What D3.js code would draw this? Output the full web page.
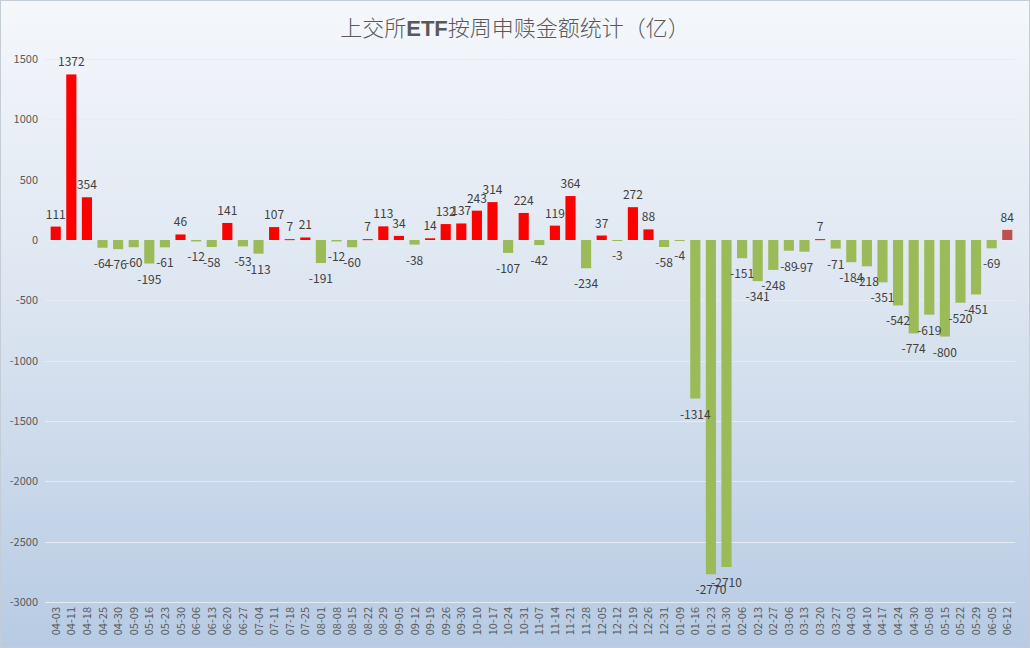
<!DOCTYPE html>
<html>
<head>
<meta charset="utf-8">
<script src="https://cdn.jsdelivr.net/npm/d3@7"></script>
<style>
  body { margin: 0; background: #fff; }
  svg text { font-family: "Noto Sans CJK SC", "Noto Sans", sans-serif; }
</style>
</head>
<body>
<svg id="vis" width="1030" height="648"></svg>
<script>
// weekly dates (x categories) - some dates repeat across years
const weeks = [
  "04-03", "04-11", "04-18", "04-25", "04-30", "05-09", "05-16", "05-23", "05-30", "06-06",
  "06-13", "06-20", "06-27", "07-04", "07-11", "07-18", "07-25", "08-01", "08-08", "08-15",
  "08-22", "08-29", "09-05", "09-12", "09-19", "09-26", "09-30", "10-10", "10-17", "10-24",
  "10-31", "11-07", "11-14", "11-21", "11-28", "12-05", "12-12", "12-19", "12-26", "12-31",
  "01-09", "01-16", "01-23", "01-30", "02-06", "02-13", "02-27", "03-06", "03-13", "03-20",
  "03-27", "04-03", "04-10", "04-17", "04-24", "04-30", "05-08", "05-15", "05-22", "05-29",
  "06-05", "06-12"
];

// net subscription / redemption (亿)
const amounts = [
  111, 1372, 354, -64, -76, -60, -195, -61, 46, -12,
  -58, 141, -53, -113, 107, 7, 21, -191, -12, -60,
  7, 113, 34, -38, 14, 132, 137, 243, 314, -107,
  224, -42, 119, 364, -234, 37, -3, 272, 88, -58,
  -4, -1314, -2770, -2710, -151, -341, -248, -89, -97, 7,
  -71, -184, -218, -351, -542, -774, -619, -800, -520, -451,
  -69, 84
];

const yTicks = [1500, 1000, 500, 0, -500, -1000, -1500, -2000, -2500, -3000];

const width = 1030, height = 648;
const margin = { top: 59, right: 15, bottom: 46, left: 48 };

const svg = d3.select("svg#vis");

// background gradient
const defs = svg.append("defs");
const grad = defs.append("linearGradient")
  .attr("id", "bg")
  .attr("x1", 0).attr("y1", 0)
  .attr("x2", 0).attr("y2", 1);
grad.append("stop").attr("offset", "0%").attr("stop-color", "#f5f7fb");
grad.append("stop").attr("offset", "45%").attr("stop-color", "#dde6f1");
grad.append("stop").attr("offset", "100%").attr("stop-color", "#b7cbe3");

svg.append("rect")
  .attr("x", 0.5).attr("y", 0.5)
  .attr("width", width - 1).attr("height", height - 1)
  .attr("fill", "url(#bg)")
  .attr("stroke", "#c4ccd6");

// title
const title = svg.append("text")
  .attr("x", width / 2)
  .attr("y", 36)
  .attr("text-anchor", "middle")
  .attr("font-size", 22)
  .attr("font-weight", 300)
  .attr("fill", "#595959");
title.append("tspan").text("上交所");
title.append("tspan").attr("font-weight", "bold").attr("font-family", "Liberation Sans, sans-serif").text("ETF");
title.append("tspan").text("按周申赎金额统计（亿）");

// use index as band key since week labels repeat
const x = d3.scaleBand()
  .domain(d3.range(weeks.length))
  .range([margin.left, width - margin.right])
  .paddingInner(0.35)
  .paddingOuter(0.17);

const y = d3.scaleLinear()
  .domain([-3000, 1500])
  .range([height - margin.bottom, margin.top]);

function cx(i) {
  return x(i) + x.bandwidth() / 2;
}

// gridlines
svg.append("g")
  .selectAll("line")
  .data(yTicks)
  .enter()
  .append("line")
  .attr("x1", margin.left - 3)
  .attr("x2", width - margin.right)
  .attr("y1", d => Math.round(y(d)) + 0.5)
  .attr("y2", d => Math.round(y(d)) + 0.5)
  .attr("stroke", "#e6ecf3")
  .attr("stroke-width", 1);

// y tick labels
svg.append("g")
  .selectAll("text")
  .data(yTicks)
  .enter()
  .append("text")
  .attr("x", 38)
  .attr("y", d => y(d) + 4)
  .attr("text-anchor", "end")
  .attr("font-size", 11)
  .attr("fill", "#595959")
  .text(d => d);

// bars
const last = weeks.length - 1;
svg.append("g")
  .selectAll("rect")
  .data(amounts)
  .enter()
  .append("rect")
  .attr("x", (d, i) => x(i))
  .attr("width", x.bandwidth())
  .attr("y", d => y(Math.max(0, d)))
  .attr("height", d => Math.max(1, Math.abs(y(d) - y(0))))
  .attr("fill", (d, i) => i === last ? "#c0504d" : (d >= 0 ? "#ff0000" : "#9bbb59"));

// data labels
svg.append("g")
  .selectAll("text")
  .data(amounts)
  .enter()
  .append("text")
  .attr("x", (d, i) => cx(i))
  .attr("y", d => d >= 0 ? y(d) - 8 : y(d) + 20)
  .attr("text-anchor", "middle")
  .attr("font-size", 12)
  .attr("fill", "#404040")
  .text(d => d);

// x labels (rotated)
svg.append("g")
  .selectAll("text")
  .data(weeks)
  .enter()
  .append("text")
  .attr("transform", (d, i) => "translate(" + (cx(i) + 4) + "," + 607 + ") rotate(-90)")
  .attr("text-anchor", "end")
  .attr("font-size", 11)
  .attr("fill", "#595959")
  .text(d => d);
</script>
</body>
</html>
